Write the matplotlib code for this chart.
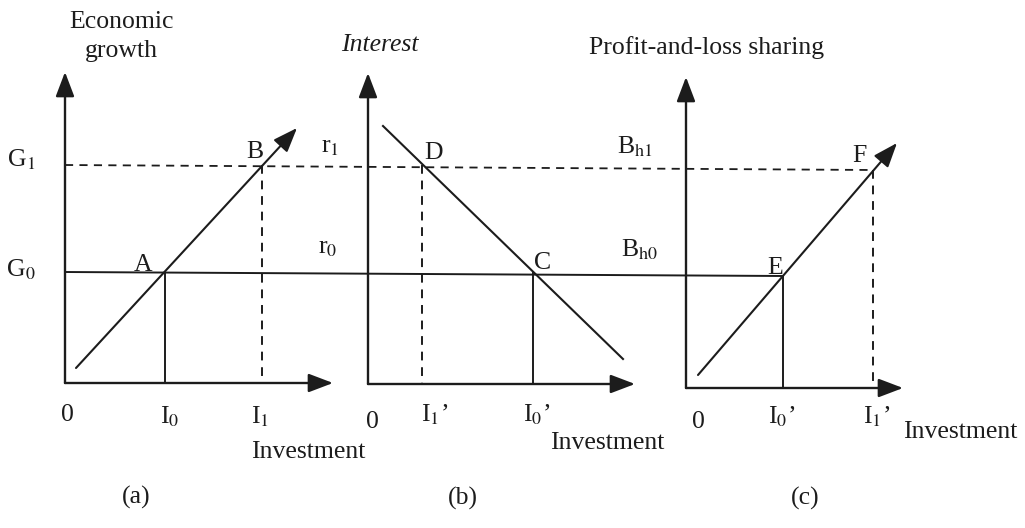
import matplotlib.pyplot as plt

plt.rcParams['font.family'] = ['Liberation Serif', 'DejaVu Serif']
plt.rcParams['mathtext.fontset'] = 'stix'

ink = '#1c1c1c'

# diagram positions (pixel-like units of the original sketch)
origins_x = [65, 368, 686]
bases_y = [383, 384, 388]
axis_tops = [72, 73, 77]
axis_ends = [333, 635, 903]

g_levels = [272, 276]      # G0 line: start y, end y (scan tilt)
g1_levels = [165, 170]     # G1 dashed line
g_line_x = [65, 783]
g1_line_x = [65, 873]

# curves: start and end points
growth_x = [76, 297]
growth_y = [368, 128]
interest_x = [383, 623]
interest_y = [126, 359]
pls_x = [698, 897]
pls_y = [375, 143]

# vertical drop lines: x, top y, bottom y, dashed?
drop_x = [165, 262, 422, 533, 783, 873]
drop_top = [272, 165, 165, 272, 276, 170]
drop_bottom = [383, 383, 384, 384, 388, 388]
drop_dashed = [False, True, True, False, False, True]

# text labels
labels = ['Economic', 'growth', r'G$_1$', r'G$_0$', '0', r'I$_0$', r'I$_1$',
          'Investment', '(a)', 'A', 'B', r'r$_1$', r'r$_0$',
          'Interest', '0', 'I$_1$’', 'I$_0$’', 'Investment', '(b)', 'D', 'C',
          r'B$_{\mathrm{h1}}$', r'B$_{\mathrm{h0}}$',
          'Profit-and-loss sharing', '0', 'I$_0$’', 'I$_1$’', 'Investment',
          '(c)', 'E', 'F']
label_x = [122, 121, 21, 21, 67, 170, 260, 308, 136, 143, 255, 330, 328,
           380, 372, 435, 537, 607, 463, 434, 543, 635, 640,
           707, 698, 782, 877, 960, 805, 775, 859]
label_y = [22, 51, 160, 270, 415, 417, 417, 452, 497, 265, 152, 147, 248,
           45, 422, 415, 415, 443, 498, 153, 263, 147, 250,
           48, 422, 417, 417, 432, 498, 268, 156]

fig = plt.figure(figsize=(10.25, 5.28), dpi=100)
ax = fig.add_axes([0, 0, 1, 1])
ax.set_xlim(0, 1025)
ax.set_ylim(528, 0)
ax.axis('off')


def arrow(x0, y0, x1, y1, lw=1.7):
    ax.annotate('', xy=(x1, y1), xytext=(x0, y0),
                arrowprops=dict(arrowstyle='-|>,head_length=1.0,head_width=0.38',
                                mutation_scale=15, lw=lw, color=ink,
                                shrinkA=0, shrinkB=0))


# axes of the three panels
for ox, by, top, end in zip(origins_x, bases_y, axis_tops, axis_ends):
    arrow(ox, by, ox, top)
    arrow(ox, by, end, by)

# horizontal levels
ax.plot(g_line_x, g_levels, color=ink, lw=1.4)
ax.plot(g1_line_x, g1_levels, color=ink, lw=1.3, ls=(0, (4.5, 3.5)))

# curves
arrow(growth_x[0], growth_y[0], growth_x[1], growth_y[1], lw=1.5)
ax.plot(interest_x, interest_y, color=ink, lw=1.5)
arrow(pls_x[0], pls_y[0], pls_x[1], pls_y[1], lw=1.5)

# drop lines
for x, t, b, d in zip(drop_x, drop_top, drop_bottom, drop_dashed):
    ax.plot([x, x], [t, b], color=ink, lw=1.4,
            ls=(0, (4.5, 3.5)) if d else '-')

for s, x, y in zip(labels, label_x, label_y):
    style = 'italic' if s == 'Interest' else 'normal'
    ax.text(x, y, s, ha='center', va='center', fontsize=18.5, color=ink,
            style=style)

fig.savefig('out.png', dpi=100, facecolor='white')
